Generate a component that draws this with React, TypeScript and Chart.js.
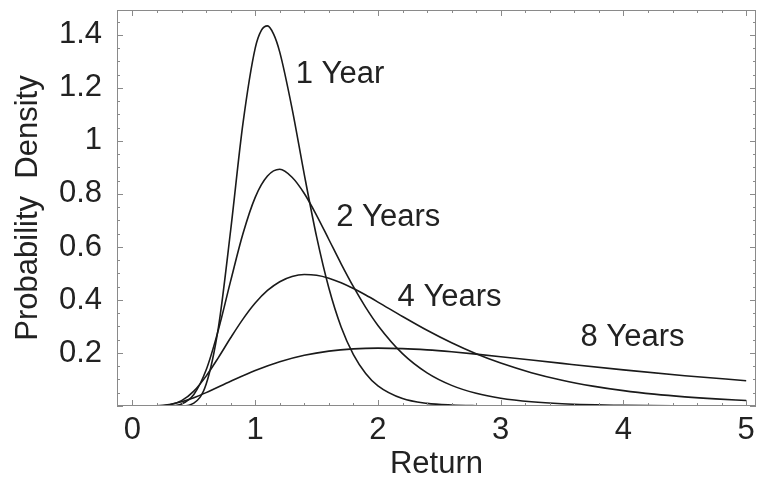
import React, { useEffect, useRef } from 'react';
import { Chart, registerables } from 'chart.js';
Chart.register(...registerables);

const FONT = '"Liberation Sans", Arial, Helvetica, sans-serif';
const FS = 31;

// Series (return vs probability density)
const x1Year = [0, 0.3, 0.4, 0.5, 0.6, 0.7, 0.8, 0.9, 1.0, 1.05, 1.1, 1.15, 1.2, 1.3, 1.4, 1.5, 1.6, 1.7, 1.8, 1.9, 2.0, 2.2, 2.4, 2.6, 2.8, 3.0, 3.5, 4.0, 5.0];
const y1Year = [0, 0, 0.0005, 0.011, 0.082, 0.296, 0.663, 1.065, 1.35, 1.417, 1.434, 1.403, 1.335, 1.123, 0.873, 0.639, 0.445, 0.298, 0.194, 0.123, 0.076, 0.028, 0.01, 0.0035, 0.0012, 0.0004, 0, 0, 0];

const x2Years = [0, 0.2, 0.3, 0.4, 0.5, 0.6, 0.7, 0.8, 0.9, 1.0, 1.1, 1.2, 1.3, 1.4, 1.5, 1.6, 1.7, 1.8, 1.9, 2.0, 2.2, 2.4, 2.6, 2.8, 3.0, 3.25, 3.5, 4.0, 4.5, 5.0];
const y2Years = [0, 0, 0.0004, 0.0076, 0.0437, 0.1356, 0.2873, 0.4721, 0.6497, 0.7873, 0.8675, 0.893, 0.8631, 0.8017, 0.7195, 0.6282, 0.5365, 0.4501, 0.3721, 0.304, 0.1975, 0.125, 0.0778, 0.0479, 0.0293, 0.0158, 0.0085, 0.0025, 0.0008, 0.0002];

const x4Years = [0, 0.2, 0.3, 0.4, 0.5, 0.6, 0.7, 0.8, 0.9, 1.0, 1.1, 1.2, 1.3, 1.4, 1.5, 1.6, 1.7, 1.8, 1.9, 2.0, 2.2, 2.4, 2.6, 2.8, 3.0, 3.25, 3.5, 3.75, 4.0, 4.25, 4.5, 4.75, 5.0];
const y4Years = [0, 0.0002, 0.004, 0.0201, 0.0563, 0.1128, 0.1827, 0.2573, 0.3277, 0.3884, 0.4359, 0.469, 0.4886, 0.496, 0.4931, 0.4821, 0.4648, 0.4431, 0.4185, 0.3921, 0.3378, 0.2856, 0.2384, 0.197, 0.1618, 0.1257, 0.0972, 0.0751, 0.0579, 0.0447, 0.0346, 0.0268, 0.0208];

const x8Years = [0, 0.2, 0.3, 0.4, 0.5, 0.6, 0.8, 1.0, 1.2, 1.4, 1.6, 1.8, 2.0, 2.2, 2.4, 2.6, 2.8, 3.0, 3.5, 4.0, 4.5, 5.0];
const y8Years = [0, 0.001, 0.0058, 0.016, 0.0313, 0.0504, 0.0931, 0.1337, 0.1669, 0.1912, 0.207, 0.2155, 0.2182, 0.2165, 0.2116, 0.2044, 0.1957, 0.1861, 0.1607, 0.1362, 0.1143, 0.0954];

// Curve annotations (text, anchor in data coordinates)
const curveLabels = ['1 Year', '2 Years', '4 Years', '8 Years'];
const curveLabelX = [1.33, 1.66, 2.16, 3.65];
const curveLabelY = [1.25, 0.71, 0.41, 0.257];

// Axis ticks
const xTickValues = [0, 1, 2, 3, 4, 5];
const xTickLabels = ['0', '1', '2', '3', '4', '5'];
const yTickValues = [0.2, 0.4, 0.6, 0.8, 1, 1.2, 1.4];
const yTickLabels = ['0.2', '0.4', '0.6', '0.8', '1', '1.2', '1.4'];

const X_MIN = -0.126;
const X_MAX = 5.08;
const Y_MIN = 0;
const Y_MAX = 1.494;

const pts = (xs: number[], ys: number[]) => xs.map((x, i) => ({ x, y: ys[i] }));

const framePlugin = {
  id: 'frame',
  afterDraw(chart: any) {
    const { ctx, chartArea: a, scales } = chart;
    const xs = scales.x;
    const ys = scales.y;
    ctx.save();
    ctx.strokeStyle = '#8a8a8a';
    ctx.lineWidth = 1;
    ctx.strokeRect(a.left + 0.5, a.top + 0.5, a.right - a.left - 1, a.bottom - a.top - 1);
    ctx.beginPath();
    for (let i = 0; i <= 25; i++) {
      const v = i * 0.2;
      const px = Math.round(xs.getPixelForValue(v)) + 0.5;
      const len = i % 5 === 0 ? 6 : 3;
      ctx.moveTo(px, a.bottom);
      ctx.lineTo(px, a.bottom - len);
      ctx.moveTo(px, a.top);
      ctx.lineTo(px, a.top + len);
    }
    for (let i = 0; i <= 29; i++) {
      const v = i * 0.05;
      const py = Math.round(ys.getPixelForValue(v)) + 0.5;
      const len = i % 4 === 0 ? 6 : 3;
      ctx.moveTo(a.left, py);
      ctx.lineTo(a.left + len, py);
      ctx.moveTo(a.right, py);
      ctx.lineTo(a.right - len, py);
    }
    ctx.stroke();

    ctx.fillStyle = '#222';
    ctx.font = `${FS}px ${FONT}`;
    ctx.textAlign = 'left';
    ctx.textBaseline = 'middle';
    curveLabels.forEach((t, i) => {
      ctx.fillText(t, xs.getPixelForValue(curveLabelX[i]), ys.getPixelForValue(curveLabelY[i]));
    });
    ctx.restore();
  },
};

export default function App() {
  const ref = useRef<HTMLCanvasElement>(null);
  useEffect(() => {
    document.body.style.margin = '0';
    const mk = (label: string, xs: number[], ys: number[]) => ({
      label,
      data: pts(xs, ys),
      showLine: true,
      borderColor: '#1a1a1a',
      borderWidth: 1.6,
      pointRadius: 0,
      fill: false,
      cubicInterpolationMode: 'monotone' as const,
    });
    const chart = new Chart(ref.current!, {
      type: 'scatter',
      data: {
        datasets: [
          mk('1 Year', x1Year, y1Year),
          mk('2 Years', x2Years, y2Years),
          mk('4 Years', x4Years, y4Years),
          mk('8 Years', x8Years, y8Years),
        ],
      },
      options: {
        animation: false,
        responsive: false,
        devicePixelRatio: 1,
        layout: { padding: { top: 10, right: 1, left: 0, bottom: 0 } },
        plugins: { legend: { display: false }, tooltip: { enabled: false } },
        scales: {
          x: {
            type: 'linear',
            min: X_MIN,
            max: X_MAX,
            grid: { display: false, drawTicks: false },
            border: { display: false },
            afterBuildTicks: (s: any) => {
              s.ticks = xTickValues.map((v) => ({ value: v }));
            },
            afterFit: (s: any) => {
              s.height = 81;
              s.paddingLeft = 0;
              s.paddingRight = 0;
            },
            ticks: {
              font: { family: FONT, size: FS },
              color: '#222',
              padding: 6,
              maxRotation: 0,
              autoSkip: false,
              callback: (_v: any, i: number) => xTickLabels[i],
            },
            title: {
              display: true,
              text: 'Return',
              font: { family: FONT, size: FS },
              color: '#222',
              padding: { top: 0, bottom: 4 },
            },
          },
          y: {
            type: 'linear',
            min: Y_MIN,
            max: Y_MAX,
            grid: { display: false, drawTicks: false },
            border: { display: false },
            afterBuildTicks: (s: any) => {
              s.ticks = yTickValues.map((v) => ({ value: v }));
            },
            afterFit: (s: any) => {
              s.width = 117;
              s.paddingTop = 0;
              s.paddingBottom = 0;
            },
            ticks: {
              font: { family: FONT, size: FS },
              color: '#222',
              padding: 15,
              autoSkip: false,
              callback: (_v: any, i: number) => yTickLabels[i],
            },
            title: {
              display: true,
              text: 'Probability  Density',
              font: { family: FONT, size: FS },
              color: '#222',
              padding: { top: 10, bottom: 0 },
            },
          },
        },
      },
      plugins: [framePlugin],
    });
    return () => chart.destroy();
  }, []);
  return (
    <div style={{ width: 757, height: 487 }}>
      <canvas ref={ref} width={757} height={487} />
    </div>
  );
}
